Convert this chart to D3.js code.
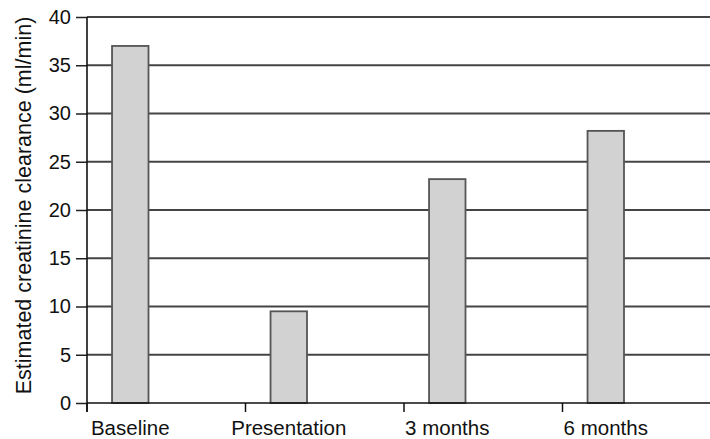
<!DOCTYPE html>
<html>
<head>
<meta charset="utf-8">
<script src="https://cdn.jsdelivr.net/npm/d3@7"></script>
<style>
  html, body { margin: 0; padding: 0; background: #fff; }
  svg { display: block; font-family: "Liberation Sans", Arial, sans-serif; }
</style>
</head>
<body>
<svg id="chart" width="710" height="439"></svg>
<script>
const categories = ["Baseline", "Presentation", "3 months", "6 months"];
const values = [37, 9.5, 23.2, 28.2];
const yTicks = [0, 5, 10, 15, 20, 25, 30, 35, 40];
const yTitle = "Estimated creatinine clearance (ml/min)";

(function () {
const svg = d3.select("#chart");
const mLeft = 87, mRight = 721, mTop = 17, mBottom = 403;

const x = d3.scaleBand().domain(categories).range([mLeft, mRight]).paddingInner(0).paddingOuter(0);
const y = d3.scaleLinear().domain([0, 40]).range([mBottom, mTop]);
const bw = x.bandwidth();

// gridlines
svg.append("g").selectAll("line").data(yTicks.filter(d => d > 0)).join("line")
  .attr("x1", mLeft).attr("x2", 710)
  .attr("y1", d => y(d)).attr("y2", d => y(d))
  .attr("stroke", "#444").attr("stroke-width", 2.2);

// y axis
const yAxis = svg.append("g").attr("transform", `translate(${mLeft},0)`)
  .call(d3.axisLeft(y).tickValues(yTicks).tickSize(11).tickPadding(5));
yAxis.select(".domain").remove();
yAxis.selectAll(".tick line").attr("stroke", "#222").attr("stroke-width", 1.5);
yAxis.selectAll(".tick text").attr("font-size", 20).attr("fill", "#111")
  .attr("font-family", "Liberation Sans, Arial, sans-serif");

// bars
svg.append("g").selectAll("rect").data(values).join("rect")
  .attr("x", (d, i) => x(categories[i]) + bw * 0.158)
  .attr("width", bw * 0.23)
  .attr("y", d => y(d))
  .attr("height", d => y(0) - y(d))
  .attr("fill", "#d2d2d2")
  .attr("stroke", "#555").attr("stroke-width", 1.8);

// x axis line
svg.append("line").attr("x1", mLeft).attr("x2", 710)
  .attr("y1", y(0)).attr("y2", y(0))
  .attr("stroke", "#111").attr("stroke-width", 1.6);

// x ticks at band boundaries
svg.append("g").selectAll("line").data(categories).join("line")
  .attr("x1", d => x(d)).attr("x2", d => x(d))
  .attr("y1", y(0)).attr("y2", y(0) + 9)
  .attr("stroke", "#111").attr("stroke-width", 1.5);

// y axis line
svg.append("line").attr("x1", mLeft).attr("x2", mLeft)
  .attr("y1", y(40)).attr("y2", y(0) + 9)
  .attr("stroke", "#111").attr("stroke-width", 1.6);

// category labels under bar centers
svg.append("g").selectAll("text").data(categories).join("text")
  .attr("x", d => x(d) + bw * 0.273)
  .attr("y", 435)
  .attr("text-anchor", "middle")
  .attr("font-size", 20.5).attr("fill", "#111")
  .text(d => d);

// y title
svg.append("text")
  .attr("transform", `translate(31,${(8 + 403) / 2}) rotate(-90)`)
  .attr("text-anchor", "middle")
  .attr("font-size", 21.5).attr("fill", "#111")
  .text(yTitle);
})();
</script>
</body>
</html>
